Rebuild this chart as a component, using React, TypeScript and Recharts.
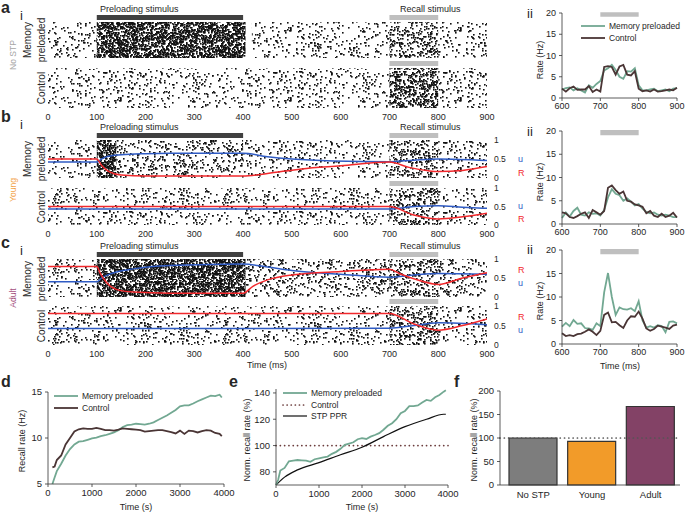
import React from 'react'
import { ComposedChart, Line, Bar, Cell, XAxis, YAxis, ReferenceArea, ReferenceLine } from 'recharts'

const W = 685
const H = 513
const FONT = '"Liberation Sans", Arial, Helvetica, sans-serif'
const GREEN = '#72a892'
const BROWN = '#4a3535'
const RED = '#f2282c'
const BLUE = '#2f5bc4'
const DARKBAR = '#404040'
const LIGHTBAR = '#bfbfbf'
const INK = '#262626'

// ---- raster panels (i) ----
const rasterTicks = [0, 100, 200, 300, 400, 500, 600, 700, 800, 900]
const preloadStim = { from: 100, to: 400 }
const recallStim = { from: 700, to: 800 }

// spike density class per time window
const noStpPreSegs = [
  { from: 0, to: 100, level: 2 },
  { from: 100, to: 405, level: 6 },
  { from: 418, to: 700, level: 2 },
  { from: 700, to: 800, level: 4 },
  { from: 800, to: 900, level: 2 },
]
const noStpCtrlSegs = [
  { from: 0, to: 700, level: 2 },
  { from: 700, to: 800, level: 5 },
  { from: 800, to: 900, level: 2 },
]
const youngPreSegs = [
  { from: 0, to: 100, level: 2 },
  { from: 100, to: 140, level: 6 },
  { from: 140, to: 400, level: 3 },
  { from: 400, to: 700, level: 2 },
  { from: 700, to: 800, level: 4 },
  { from: 800, to: 900, level: 2 },
]
const youngCtrlSegs = [
  { from: 0, to: 700, level: 2 },
  { from: 700, to: 800, level: 4 },
  { from: 800, to: 900, level: 2 },
]
const adultPreSegs = [
  { from: 0, to: 100, level: 2 },
  { from: 100, to: 405, level: 6 },
  { from: 405, to: 700, level: 3 },
  { from: 700, to: 800, level: 4 },
  { from: 800, to: 900, level: 3 },
]
const adultCtrlSegs = [
  { from: 0, to: 700, level: 2 },
  { from: 700, to: 800, level: 4 },
  { from: 800, to: 900, level: 2 },
]

// u (blue) and R (red) traces, right axis 0..1
const uYoungPre = [
  { t: 0, v: 0.42 }, { t: 100, v: 0.42 }, { t: 110, v: 0.5 }, { t: 120, v: 0.56 }, { t: 150, v: 0.61 },
  { t: 200, v: 0.64 }, { t: 250, v: 0.65 }, { t: 400, v: 0.65 }, { t: 450, v: 0.56 }, { t: 500, v: 0.5 },
  { t: 585, v: 0.45 }, { t: 700, v: 0.43 }, { t: 750, v: 0.47 }, { t: 800, v: 0.5 }, { t: 900, v: 0.46 },
]
const rYoungPre = [
  { t: 0, v: 0.5 }, { t: 100, v: 0.5 }, { t: 110, v: 0.33 }, { t: 125, v: 0.17 }, { t: 150, v: 0.08 },
  { t: 200, v: 0.05 }, { t: 400, v: 0.05 }, { t: 450, v: 0.12 }, { t: 520, v: 0.24 }, { t: 600, v: 0.32 },
  { t: 700, v: 0.42 }, { t: 740, v: 0.28 }, { t: 780, v: 0.19 }, { t: 800, v: 0.17 }, { t: 850, v: 0.2 },
  { t: 900, v: 0.3 },
]
const uYoungCtrl = [
  { t: 0, v: 0.43 }, { t: 700, v: 0.43 }, { t: 750, v: 0.5 }, { t: 800, v: 0.52 }, { t: 850, v: 0.48 }, { t: 900, v: 0.45 },
]
const rYoungCtrl = [
  { t: 0, v: 0.5 }, { t: 700, v: 0.5 }, { t: 750, v: 0.27 }, { t: 800, v: 0.16 }, { t: 850, v: 0.22 }, { t: 900, v: 0.32 },
]
const uAdultPre = [
  { t: 0, v: 0.4 }, { t: 100, v: 0.4 }, { t: 110, v: 0.5 }, { t: 130, v: 0.62 }, { t: 175, v: 0.74 },
  { t: 250, v: 0.83 }, { t: 400, v: 0.87 }, { t: 450, v: 0.79 }, { t: 500, v: 0.7 }, { t: 600, v: 0.6 },
  { t: 700, v: 0.52 }, { t: 750, v: 0.58 }, { t: 800, v: 0.62 }, { t: 900, v: 0.6 },
]
const rAdultPre = [
  { t: 0, v: 0.8 }, { t: 100, v: 0.8 }, { t: 108, v: 0.6 }, { t: 120, v: 0.38 }, { t: 140, v: 0.2 },
  { t: 175, v: 0.13 }, { t: 250, v: 0.1 }, { t: 400, v: 0.1 }, { t: 420, v: 0.28 }, { t: 450, v: 0.45 },
  { t: 500, v: 0.58 }, { t: 600, v: 0.67 }, { t: 700, v: 0.73 }, { t: 720, v: 0.62 }, { t: 760, v: 0.44 },
  { t: 800, v: 0.33 }, { t: 850, v: 0.5 }, { t: 900, v: 0.64 },
]
const uAdultCtrl = [
  { t: 0, v: 0.42 }, { t: 700, v: 0.43 }, { t: 750, v: 0.5 }, { t: 800, v: 0.57 }, { t: 900, v: 0.52 },
]
const rAdultCtrl = [
  { t: 0, v: 0.81 }, { t: 700, v: 0.81 }, { t: 750, v: 0.54 }, { t: 800, v: 0.38 }, { t: 850, v: 0.5 }, { t: 900, v: 0.67 },
]

// ---- rate panels (ii) ----
const rateT = [600, 610, 620, 630, 640, 650, 660, 670, 680, 690, 700, 710, 720, 730, 740, 750, 760, 770, 780, 790, 800, 810, 820, 830, 840, 850, 860, 870, 880, 890, 900]
const rateTicks = [600, 700, 800, 900]
const rateYTicks = [0, 5, 10, 15, 20]
const noStpMem = [2.0, 2.3, 2.5, 1.8, 2.3, 1.8, 1.3, 3.0, 2.4, 3.3, 4.0, 6.5, 7.0, 7.8, 6.6, 5.0, 4.5, 6.3, 6.2, 7.0, 3.0, 1.8, 1.8, 2.0, 2.2, 1.6, 1.8, 2.0, 1.6, 2.2, 2.3]
const noStpCtrl = [2.2, 1.5, 2.3, 2.7, 1.9, 2.0, 2.0, 2.8, 1.4, 2.0, 1.5, 7.3, 7.5, 7.3, 5.5, 7.4, 7.8, 5.5, 5.3, 6.3, 2.2, 1.6, 1.8, 1.5, 2.0, 1.5, 1.6, 1.8, 2.0, 1.8, 2.4]
const youngMem = [1.3, 2.5, 1.6, 2.8, 3.5, 2.0, 1.8, 2.5, 2.2, 2.3, 1.8, 3.0, 5.7, 7.5, 6.5, 6.2, 5.0, 5.5, 4.8, 4.0, 4.3, 3.3, 2.6, 2.3, 2.5, 2.0, 1.8, 2.0, 1.8, 1.5, 1.5]
const youngCtrl = [2.5, 2.3, 1.5, 1.3, 1.7, 2.2, 2.5, 1.3, 3.0, 2.5, 2.0, 2.8, 7.8, 8.3, 7.3, 6.5, 7.0, 5.0, 4.8, 4.2, 4.0, 3.7, 2.3, 2.8, 1.8, 1.5, 2.2, 1.5, 1.8, 2.4, 1.4]
const adultMem = [3.7, 4.5, 3.8, 5.1, 4.3, 4.4, 3.4, 3.3, 3.0, 4.4, 3.8, 11.0, 15.1, 10.0, 6.2, 7.8, 7.4, 7.3, 7.6, 7.0, 9.1, 5.0, 3.5, 3.8, 3.5, 4.0, 3.8, 2.5, 4.7, 4.8, 4.4]
const adultCtrl = [2.3, 1.7, 1.9, 1.7, 2.1, 2.2, 2.6, 3.1, 2.6, 1.9, 2.8, 6.2, 6.7, 4.6, 4.7, 4.0, 3.4, 5.0, 5.9, 5.8, 6.9, 5.4, 3.3, 2.8, 3.2, 3.9, 3.7, 3.5, 3.2, 3.9, 4.1]

// ---- panel d ----
const recallT = [100, 150, 200, 300, 400, 500, 600, 700, 800, 900, 1000, 1100, 1200, 1300, 1400, 1500, 1600, 1700, 1800, 1900, 2000, 2100, 2200, 2300, 2400, 2500, 2600, 2700, 2800, 2900, 3000, 3100, 3200, 3300, 3400, 3500, 3600, 3700, 3800, 3900, 3950]
const recallMem = [5.0, 5.7, 6.4, 7.2, 8.1, 8.8, 9.3, 9.6, 9.65, 9.8, 9.95, 10.05, 10.2, 10.3, 10.45, 10.6, 10.85, 11.2, 11.4, 11.45, 11.55, 11.5, 11.45, 11.55, 11.7, 11.95, 12.2, 12.45, 12.75, 13.05, 13.45, 13.55, 13.55, 13.75, 14.0, 14.2, 14.4, 14.6, 14.55, 14.7, 14.4]
const recallCtrl = [6.8, 6.9, 7.6, 8.1, 9.3, 10.0, 10.7, 10.95, 11.05, 11.0, 11.0, 11.1, 11.0, 10.85, 10.85, 10.8, 10.9, 11.05, 11.0, 10.95, 10.9, 10.85, 10.7, 10.75, 10.8, 10.85, 10.85, 10.75, 10.65, 10.5, 10.8, 10.45, 10.8, 10.75, 10.6, 10.75, 10.85, 10.8, 10.55, 10.45, 10.2]
const timeSTicks = [0, 1000, 2000, 3000, 4000]

// ---- panel e ----
const normT = [0, 50, 100, 200, 300, 400, 500, 600, 700, 800, 900, 1000, 1100, 1200, 1300, 1400, 1500, 1600, 1700, 1800, 1900, 2000, 2100, 2200, 2300, 2400, 2500, 2600, 2700, 2800, 2900, 3000, 3100, 3200, 3300, 3400, 3500, 3600, 3700, 3800, 3900, 3950]
const normMem = [70, 74, 81, 83, 88, 88.6, 89, 88.8, 88.6, 87.6, 89.6, 90.3, 91, 91.6, 93.7, 95.2, 97.5, 100.5, 101.5, 102.5, 104.8, 105.6, 105, 106.8, 108, 109.4, 112, 115, 117, 120, 124.6, 126.3, 130, 130, 130.5, 132.7, 134.7, 134, 136.7, 138.5, 141, 142]
const pprT = [0, 200, 500, 1000, 1500, 2000, 2500, 3000, 3500, 3900, 3950]
const pprVals = [70, 76, 81.5, 87, 93, 98.7, 106.8, 114.4, 120, 123.8, 123.8]
const controlLevel = 100

// ---- panel f ----
const groups = ['No STP', 'Young', 'Adult']
const groupRecall = [100, 93, 167]
const groupColors = ['#7d7d7d', '#f29b29', '#834266']

// spike texture used to paint raster windows (px^2 per dot by density class)
const dotSpacing = [0, 22, 17, 11, 6.5, 4, 2.2]
const TILE_W = 170
const TILE_H = 70

function SpikeTextures() {
  return (
    <svg width={0} height={0} style={{ position: 'absolute' }}>
      <defs>
        {dotSpacing.map((sp, lvl) => {
          if (!sp) return null
          let s = 12345 + lvl * 977
          const n = Math.round((TILE_W * TILE_H) / sp)
          const dots = []
          for (let i = 0; i < n; i++) {
            s = (Math.imul(s, 1664525) + 1013904223) >>> 0
            const x = Math.floor((s / 4294967296) * TILE_W)
            s = (Math.imul(s, 1664525) + 1013904223) >>> 0
            const y = Math.floor((s / 4294967296) * TILE_H)
            dots.push(<rect key={i} x={x} y={y} width={1.6} height={1.6} />)
          }
          return (
            <pattern id={`spk${lvl}`} key={lvl} width={TILE_W} height={TILE_H} patternUnits="userSpaceOnUse">
              <g fill="#111">{dots}</g>
            </pattern>
          )
        })}
      </defs>
    </svg>
  )
}

const tickStyle = { fontSize: 9, fill: INK, fontFamily: FONT }
const axisStroke = { stroke: '#333', strokeWidth: 0.8 }

function Layer({ children }: any) {
  return <div style={{ position: 'absolute', left: 0, top: 0, width: W, height: H }}>{children}</div>
}

const RX = 48
const RW = 439

function RasterRow({ top, h, segs, u, r, ticks, bars }: any) {
  const rightW = u ? 22 : 0
  const bottomH = ticks ? 16 : 0
  const margin = { top, left: RX, right: W - RX - RW - rightW, bottom: H - top - h - bottomH }
  return (
    <Layer>
      <ComposedChart width={W} height={H} margin={margin}>
        <XAxis type="number" dataKey="t" domain={[0, 900]} ticks={rasterTicks} interval={0} hide={!ticks} height={16}
          axisLine={false} tickLine={false} tickSize={2} tickMargin={4} tick={tickStyle} allowDataOverflow />
        <YAxis type="number" domain={[0, 1]} ticks={[0, 0.5, 1]} orientation="right" hide={!u} width={22}
          axisLine={false} tickLine={false} tickSize={2} tickMargin={5} tick={{ ...tickStyle, fontSize: 8.5 }} allowDataOverflow />
        {segs.map((s: any, i: number) => (
          <ReferenceArea key={'s' + i} x1={s.from} x2={s.to} y1={0} y2={1} fill={`url(#spk${s.level})`}
            fillOpacity={1} stroke="none" ifOverflow="hidden" />
        ))}
        {bars.map((b: any, i: number) => (
          <ReferenceArea key={'b' + i} x1={b.from} x2={b.to} y1={1 + 2 / h} y2={1 + 7 / h} fill={b.color}
            fillOpacity={1} stroke="none" ifOverflow="visible" />
        ))}
        {u && <Line data={u} dataKey="v" type="monotone" stroke={BLUE} strokeWidth={1.5} dot={false} isAnimationActive={false} />}
        {r && <Line data={r} dataKey="v" type="monotone" stroke={RED} strokeWidth={1.5} dot={false} isAnimationActive={false} />}
      </ComposedChart>
    </Layer>
  )
}

const RATE_X = 562
const RATE_W = 115

function RatePanel({ top, h, mem, ctrl }: any) {
  const data = rateT.map((t, i) => ({ t, mem: mem[i], ctrl: ctrl[i] }))
  return (
    <Layer>
      <ComposedChart width={W} height={H} data={data}
        margin={{ top, left: RATE_X - 30, right: W - RATE_X - RATE_W, bottom: H - top - h - 18 }}>
        <XAxis type="number" dataKey="t" domain={[600, 900]} ticks={rateTicks} interval={0} height={18}
          axisLine={axisStroke} tickLine={axisStroke} tickSize={3} tickMargin={2} tick={tickStyle} />
        <YAxis type="number" domain={[0, 20]} ticks={rateYTicks} interval={0} width={30}
          axisLine={axisStroke} tickLine={axisStroke} tickSize={3} tickMargin={3} tick={tickStyle} />
        <ReferenceArea x1={recallStim.from} x2={recallStim.to} y1={19.1} y2={20.2} fill={LIGHTBAR} fillOpacity={1}
          stroke="none" ifOverflow="visible" />
        <Line dataKey="mem" type="linear" stroke={GREEN} strokeWidth={1.8} dot={false} isAnimationActive={false} />
        <Line dataKey="ctrl" type="linear" stroke={BROWN} strokeWidth={1.8} dot={false} isAnimationActive={false} />
      </ComposedChart>
    </Layer>
  )
}

function Txt({ x, y, children, size = 9, color = INK, anchor = 'start', bold = false, rotate = false }: any) {
  const tx = rotate || anchor === 'middle' ? '-50%' : anchor === 'end' ? '-100%' : '0'
  return (
    <div style={{
      position: 'absolute', left: x, top: y, whiteSpace: 'nowrap', fontFamily: FONT, fontSize: size, color,
      fontWeight: bold ? 700 : 400, lineHeight: 1,
      transform: `translate(${tx}, -50%)${rotate ? ' rotate(-90deg)' : ''}`,
    }}>{children}</div>
  )
}

function LegendItem({ x, y, color, text, dotted = false, width = 1.8 }: any) {
  return (
    <>
      <svg style={{ position: 'absolute', left: x, top: y - 3 }} width={26} height={6}>
        <line x1={1} y1={3} x2={25} y2={3} stroke={color} strokeWidth={dotted ? 1.7 : width}
          strokeDasharray={dotted ? '0.1 4' : undefined} strokeLinecap={dotted ? 'round' : 'butt'} />
      </svg>
      <Txt x={x + 29} y={y} size={8.5}>{text}</Txt>
    </>
  )
}

export default function App() {
  const dData = recallT.map((t, i) => ({ t, mem: recallMem[i], ctrl: recallCtrl[i] }))
  const eData = normT.map((t, i) => ({ t, mem: normMem[i] }))
  const pprData = pprT.map((t, i) => ({ t, v: pprVals[i] }))
  const fData = groups.map((name, i) => ({ name, v: groupRecall[i] }))

  const preBar = { ...preloadStim, color: DARKBAR }
  const recBar = { ...recallStim, color: LIGHTBAR }

  return (
    <div style={{ position: 'absolute', left: 0, top: 0, width: W, height: H, background: '#fff', overflow: 'hidden' }}>
      <SpikeTextures />

      {/* a: no STP */}
      <RasterRow top={22} h={36} segs={noStpPreSegs} bars={[preBar, recBar]} />
      <RasterRow top={68} h={40} segs={noStpCtrlSegs} bars={[recBar]} ticks />
      {/* b: young */}
      <RasterRow top={140} h={38} segs={youngPreSegs} u={uYoungPre} r={rYoungPre} bars={[preBar, recBar]} />
      <RasterRow top={188} h={37} segs={youngCtrlSegs} u={uYoungCtrl} r={rYoungCtrl} bars={[recBar]} ticks />
      {/* c: adult */}
      <RasterRow top={259} h={38} segs={adultPreSegs} u={uAdultPre} r={rAdultPre} bars={[preBar, recBar]} />
      <RasterRow top={306} h={39} segs={adultCtrlSegs} u={uAdultCtrl} r={rAdultCtrl} bars={[recBar]} ticks />

      <RatePanel top={13} h={85} mem={noStpMem} ctrl={noStpCtrl} />
      <RatePanel top={131} h={93} mem={youngMem} ctrl={youngCtrl} />
      <RatePanel top={250} h={94} mem={adultMem} ctrl={adultCtrl} />

      {/* d */}
      <Layer>
        <ComposedChart width={W} height={H} data={dData} margin={{ top: 392, left: 48 - 25, right: W - 48 - 176, bottom: H - 392 - 92 - 18 }}>
          <XAxis type="number" dataKey="t" domain={[0, 4000]} ticks={timeSTicks} interval={0} height={18}
            axisLine={axisStroke} tickLine={axisStroke} tickSize={3} tickMargin={2} tick={{ ...tickStyle, fontSize: 9.5 }} />
          <YAxis type="number" domain={[5, 15]} ticks={[5, 10, 15]} interval={0} width={25}
            axisLine={axisStroke} tickLine={axisStroke} tickSize={3} tickMargin={3} tick={{ ...tickStyle, fontSize: 9.5 }} />
          <Line dataKey="mem" type="linear" stroke={GREEN} strokeWidth={1.8} dot={false} isAnimationActive={false} />
          <Line dataKey="ctrl" type="linear" stroke={BROWN} strokeWidth={1.8} dot={false} isAnimationActive={false} />
        </ComposedChart>
      </Layer>

      {/* e */}
      <Layer>
        <ComposedChart width={W} height={H} data={eData} margin={{ top: 389, left: 276 - 25, right: W - 276 - 172, bottom: H - 389 - 96 - 18 }}>
          <XAxis type="number" dataKey="t" domain={[0, 4000]} ticks={timeSTicks} interval={0} height={18}
            axisLine={axisStroke} tickLine={axisStroke} tickSize={3} tickMargin={2} tick={{ ...tickStyle, fontSize: 9.5 }} />
          <YAxis type="number" domain={[70, 143]} ticks={[80, 100, 120, 140]} interval={0} width={25} allowDataOverflow
            axisLine={axisStroke} tickLine={axisStroke} tickSize={3} tickMargin={3} tick={{ ...tickStyle, fontSize: 9.5 }} />
          <ReferenceLine y={controlLevel} stroke="#6b3c3c" strokeWidth={1.7} strokeDasharray="0.1 4.2" strokeLinecap="round" />
          <Line data={pprData} dataKey="v" type="monotone" stroke="#111" strokeWidth={1.2} dot={false} isAnimationActive={false} />
          <Line dataKey="mem" type="linear" stroke={GREEN} strokeWidth={1.8} dot={false} isAnimationActive={false} />
        </ComposedChart>
      </Layer>

      {/* f */}
      <Layer>
        <ComposedChart width={W} height={H} data={fData} margin={{ top: 391, left: 500 - 25, right: W - 500 - 180, bottom: H - 391 - 94 - 18 }}>
          <XAxis type="category" dataKey="name" height={18} padding={{ left: 4, right: 0 }}
            axisLine={axisStroke} tickLine={false} tickSize={3} tickMargin={3} tick={{ ...tickStyle, fontSize: 9.5 }} />
          <YAxis type="number" domain={[0, 200]} ticks={[0, 50, 100, 150, 200]} interval={0} width={25}
            axisLine={axisStroke} tickLine={axisStroke} tickSize={3} tickMargin={3} tick={{ ...tickStyle, fontSize: 9.5 }} />
          <Bar dataKey="v" barSize={48} stroke="#333" strokeWidth={1.2} isAnimationActive={false}>
            {fData.map((d, i) => <Cell key={d.name} fill={groupColors[i]} />)}
          </Bar>
          <ReferenceLine y={controlLevel} stroke="#555" strokeWidth={1.7} strokeDasharray="0.1 4.2" strokeLinecap="round" />
        </ComposedChart>
      </Layer>

      {/* panel letters */}
      <Txt x={1} y={8} size={16} bold>a</Txt>
      <Txt x={20} y={15} size={13}>i</Txt>
      <Txt x={1} y={117} size={16} bold>b</Txt>
      <Txt x={20} y={124} size={13}>i</Txt>
      <Txt x={1} y={243} size={16} bold>c</Txt>
      <Txt x={20} y={250} size={13}>i</Txt>
      <Txt x={527} y={13} size={13}>ii</Txt>
      <Txt x={527} y={131} size={13}>ii</Txt>
      <Txt x={527} y={249} size={13}>ii</Txt>
      <Txt x={1} y={382} size={16} bold>d</Txt>
      <Txt x={229} y={382} size={16} bold>e</Txt>
      <Txt x={454} y={382} size={16} bold>f</Txt>

      {/* stimulus labels */}
      <Txt x={100} y={9}>Preloading stimulus</Txt>
      <Txt x={400} y={9}>Recall stimulus</Txt>
      <Txt x={100} y={127}>Preloading stimulus</Txt>
      <Txt x={400} y={127}>Recall stimulus</Txt>
      <Txt x={100} y={246}>Preloading stimulus</Txt>
      <Txt x={400} y={246}>Recall stimulus</Txt>

      {/* row labels */}
      <Txt x={13} y={55} size={8.5} color="#a6a6a6" rotate>No STP</Txt>
      <Txt x={13} y={190} size={8.5} color="#f3a44a" rotate>Young</Txt>
      <Txt x={13} y={298} size={8.5} color="#a4507d" rotate>Adult</Txt>
      {[40, 159, 279].map((y) => (
        <React.Fragment key={y}>
          <Txt x={28} y={y} size={10} rotate>Memory</Txt>
          <Txt x={42} y={y} size={10} rotate>preloaded</Txt>
        </React.Fragment>
      ))}
      <Txt x={42} y={88} size={10} rotate>Control</Txt>
      <Txt x={42} y={207} size={10} rotate>Control</Txt>
      <Txt x={42} y={326} size={10} rotate>Control</Txt>

      {/* u / R labels */}
      <Txt x={518} y={159} size={9} color={BLUE}>u</Txt>
      <Txt x={518} y={173} size={9} color={RED}>R</Txt>
      <Txt x={518} y={206} size={9} color={BLUE}>u</Txt>
      <Txt x={518} y={219} size={9} color={RED}>R</Txt>
      <Txt x={518} y={270} size={9} color={RED}>R</Txt>
      <Txt x={518} y={283} size={9} color={BLUE}>u</Txt>
      <Txt x={518} y={317} size={9} color={RED}>R</Txt>
      <Txt x={518} y={330} size={9} color={BLUE}>u</Txt>

      {/* axis titles */}
      <Txt x={267} y={365} anchor="middle">Time (ms)</Txt>
      <Txt x={620} y={366} anchor="middle">Time (ms)</Txt>
      <Txt x={540} y={60} rotate>Rate (Hz)</Txt>
      <Txt x={540} y={182} rotate>Rate (Hz)</Txt>
      <Txt x={540} y={301} rotate>Rate (Hz)</Txt>
      <Txt x={22} y={441} rotate>Recall rate (Hz)</Txt>
      <Txt x={247} y={440} rotate>Norm. recall rate (%)</Txt>
      <Txt x={474} y={440} rotate>Norm. recall rate (%)</Txt>
      <Txt x={136} y={507} anchor="middle">Time (s)</Txt>
      <Txt x={362} y={507} anchor="middle">Time (s)</Txt>

      {/* legends */}
      <LegendItem x={580} y={26} color={GREEN} text="Memory preloaded" />
      <LegendItem x={580} y={38} color={BROWN} text="Control" />
      <LegendItem x={53} y={396} color={GREEN} text="Memory preloaded" />
      <LegendItem x={53} y={408} color={BROWN} text="Control" />
      <LegendItem x={282} y={393} color={GREEN} text="Memory preloaded" />
      <LegendItem x={282} y={405} color="#6b3c3c" text="Control" dotted />
      <LegendItem x={282} y={416} color="#111" text="STP PPR" width={1.2} />
    </div>
  )
}
